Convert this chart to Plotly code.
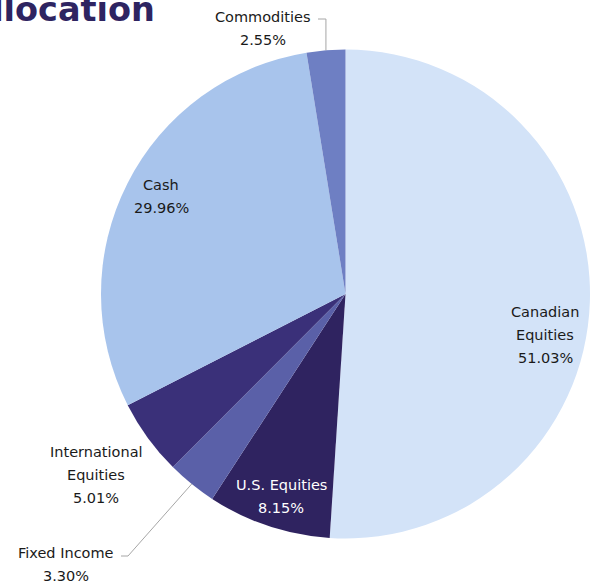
import math
import plotly.graph_objects as go

# Portfolio breakdown, listed clockwise from 12 o'clock
categories = ["Canadian Equities", "U.S. Equities", "Fixed Income",
              "International Equities", "Cash", "Commodities"]
weights = [51.03, 8.15, 3.30, 5.01, 29.96, 2.55]
label_lines = [["Canadian", "Equities"], ["U.S. Equities"], ["Fixed Income"],
               ["International", "Equities"], ["Cash"], ["Commodities"]]

colors = ["#d3e3f8", "#2f2360", "#5a60a8", "#3a3079", "#a8c4ec", "#6e7fc3"]
text_colors = ["#1a1a1a", "#ffffff", "#1a1a1a", "#1a1a1a", "#1a1a1a", "#1a1a1a"]

W, H = 592, 581
CX, CY, R = 345.5, 294.0, 244.5      # pie centre and radius in pixels
LINE_GAP = 23                        # spacing between label lines

# where the first line of each label sits (pixels)
label_anchor = {
    "Canadian Equities": (545, 312),
    "U.S. Equities": (281, 485),
    "Fixed Income": (66, 553),
    "International Equities": (96, 452),
    "Cash": (161, 185),
    "Commodities": (263, 17),
}
# elbow of the leader lines for labels set outside the pie (pixels)
leader_elbow = {
    "Commodities": [(None, 19), (318, 19)],
    "Fixed Income": [(128, 556), (121, 556)],
}

FONT = "'DejaVu Sans', sans-serif"


def to_paper(x, y):
    return x / W, 1 - y / H


fig = go.Figure(go.Pie(
    labels=categories,
    values=weights,
    sort=False,
    direction="clockwise",
    rotation=0,
    marker=dict(colors=colors, line=dict(width=0)),
    textinfo="none",
    hoverinfo="label+percent",
    showlegend=False,
    domain=dict(x=[(CX - R) / W, (CX + R) / W],
                y=[(H - CY - R) / H, (H - CY + R) / H]),
))

annotations = []
shapes = []
total = sum(weights)
cum = 0.0
for name, val, lines, tc in zip(categories, weights, label_lines, text_colors):
    mid = (cum + val / 2) / total * 2 * math.pi
    cum += val
    ax, ay = label_anchor[name]
    rows = lines + [f"{val:.2f}%"]
    for i, row in enumerate(rows):
        px_, py_ = to_paper(ax, ay + i * LINE_GAP)
        annotations.append(dict(
            text=row, x=px_, y=py_, xref="paper", yref="paper",
            xanchor="center", yanchor="middle", showarrow=False,
            font=dict(family=FONT, size=14.5, color=tc)))
    if name in leader_elbow:
        ex = CX + R * math.sin(mid)
        ey = CY - R * math.cos(mid)
        pts = [(ex, ey)]
        for x, y in leader_elbow[name]:
            pts.append((ex if x is None else x, y))
        for (x0, y0), (x1, y1) in zip(pts[:-1], pts[1:]):
            p0, p1 = to_paper(x0, y0), to_paper(x1, y1)
            shapes.append(dict(type="line", xref="paper", yref="paper",
                               x0=p0[0], y0=p0[1], x1=p1[0], y1=p1[1],
                               line=dict(color="#a6a6a6", width=1)))

# chart heading
tx, ty = to_paper(157, 10)
annotations.append(dict(
    text="Asset Allocation", x=tx, y=ty, xref="paper", yref="paper",
    xanchor="right", yanchor="middle", showarrow=False,
    font=dict(family=FONT, size=33.5, color="#2e2461", weight=700)))

fig.update_layout(
    width=W, height=H,
    margin=dict(l=0, r=0, t=0, b=0),
    paper_bgcolor="white", plot_bgcolor="white",
    annotations=annotations, shapes=shapes,
)

fig.write_html("out.html")
